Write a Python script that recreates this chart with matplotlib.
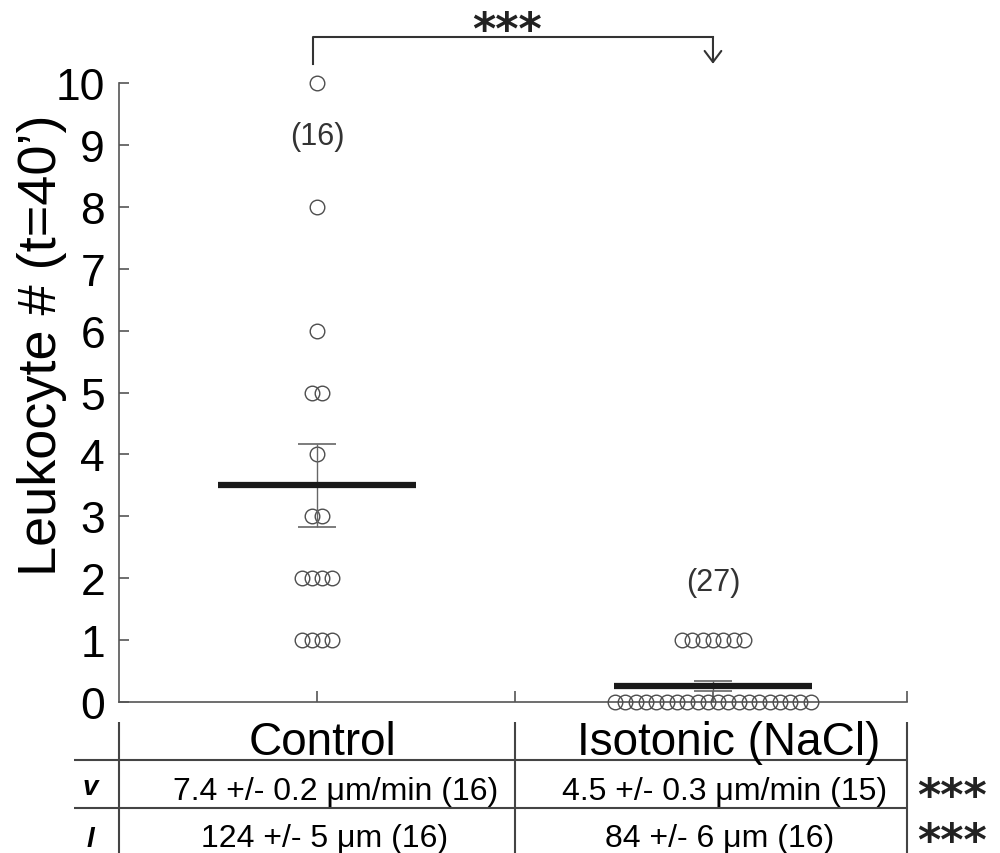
import numpy as np
import matplotlib
matplotlib.use("Agg")
import matplotlib.pyplot as plt

plt.rcParams['font.family'] = ['Liberation Sans', 'DejaVu Sans']

# data
categories = ['Control', 'Isotonic (NaCl)']
control_counts = [10, 8, 6, 5, 5, 4, 3, 3, 2, 2, 2, 2, 1, 1, 1, 1]
isotonic_counts = [1, 1, 1, 1, 1, 1, 1,
                   0, 0, 0, 0, 0, 0, 0, 0, 0, 0,
                   0, 0, 0, 0, 0, 0, 0, 0, 0, 0]
n_labels = ['(16)', '(27)']
n_label_y = [9.14, 1.94]
velocity_row = ['7.4 +/- 0.2 \u03bcm/min (16)', '4.5 +/- 0.3 \u03bcm/min (15)']
length_row = ['124 +/- 5 \u03bcm (16)', '84 +/- 6 \u03bcm (16)']
row_names = ['v', 'l']
row_stars = ['***', '***']
group_stars = '***'
y_ticks = [0, 1, 2, 3, 4, 5, 6, 7, 8, 9, 10]


def swarm_x(values, center, step=0.026):
    """spread equal values side by side around the category centre"""
    values = np.asarray(values)
    xs = np.empty(len(values))
    for v in np.unique(values):
        idx = np.where(values == v)[0]
        k = len(idx)
        xs[idx] = center + (np.arange(k) - (k - 1) / 2) * step
    return xs


fig = plt.figure(figsize=(10, 8.54), dpi=100)
ax = fig.add_axes([0.119, 1 - 703 / 854, 0.788, 619 / 854])
xlim = (0.5, 2.49)
star_font = dict(family='DejaVu Sans', fontweight='bold', fontsize=32,
                 color='#222222')

for i, vals in enumerate([control_counts, isotonic_counts]):
    xc = i + 1
    vals = np.asarray(vals, dtype=float)
    ax.plot(swarm_x(vals, xc), vals, 'o', ms=10.5, mfc='none', mec='#4d4d4d',
            mew=1.0, clip_on=False, zorder=3)
    mean = vals.mean()
    sem = vals.std(ddof=1) / np.sqrt(len(vals))
    ax.errorbar(xc, mean, yerr=sem, fmt='none', ecolor='#666666', elinewidth=1.0,
                capsize=14, capthick=1.2, zorder=4)
    ax.hlines(mean, xc - 0.25, xc + 0.25, color='#1a1a1a', lw=4.5, zorder=5)
    ax.text(xc, n_label_y[i], n_labels[i], ha='center', va='center',
            fontsize=22, color='#333333')

# significance bracket
y_low, y_high = 10.31, 10.74
ax.plot([0.99, 0.99, 2.0], [y_low, y_high, y_high], color='#333333', lw=1.5,
        clip_on=False)
ax.annotate('', xy=(2.0, y_low), xytext=(2.0, y_high), annotation_clip=False,
            arrowprops=dict(arrowstyle='->,head_length=0.4,head_width=0.3',
                            color='#333333', lw=1.5, shrinkA=0, shrinkB=0,
                            mutation_scale=20))
ax.text(1.48, 10.65, group_stars, ha='center', va='baseline', **star_font)

ax.set_xlim(*xlim)
ax.set_ylim(0, 10)
ax.set_yticks(y_ticks)
ax.set_xticks([1, 1.5, 2, xlim[1]])
ax.tick_params(axis='y', direction='in', length=7, width=1.2, color='#555555',
               labelsize=32, pad=10)
ax.tick_params(axis='x', direction='in', length=8, width=1.2, color='#555555',
               labelbottom=False)
for side in ['top', 'right']:
    ax.spines[side].set_visible(False)
for side in ['left', 'bottom']:
    ax.spines[side].set_color('#555555')
    ax.spines[side].set_linewidth(1.2)

ax.text(-0.098, (703 - 345) / 619, 'Leukocyte # (t=40\u2019)', transform=ax.transAxes,
        rotation=90, ha='center', va='center', fontsize=39)

# table under the plot (x shared with the plot, y in pixel rows from the top)
tab = fig.add_axes([0.119, 0, 0.788, 131 / 854])
tab.set_xlim(*xlim)
tab.set_ylim(854, 723)
tab.axis('off')
tab.hlines([761, 809], xlim[0] - 45 / 396, xlim[1], color='#444444', lw=1.5,
           clip_on=False)
tab.vlines([xlim[0], 1.5, xlim[1]], 723, 854, color='#444444', lw=1.5,
           clip_on=False)

tab.text(1.015, 755, categories[0], ha='center', va='baseline', fontsize=33)
tab.text(2.04, 755, categories[1], ha='center', va='baseline', fontsize=33)
tab.text(1.048, 800, velocity_row[0], ha='center', va='baseline', fontsize=23)
tab.text(2.03, 800, velocity_row[1], ha='center', va='baseline', fontsize=23)
tab.text(1.02, 847, length_row[0], ha='center', va='baseline', fontsize=23)
tab.text(2.018, 847, length_row[1], ha='center', va='baseline', fontsize=23)
for yb, name in zip([795, 847], row_names):
    tab.text(0.427, yb, name, ha='center', va='baseline', fontsize=20,
             fontweight='bold', fontstyle='italic', clip_on=False)
for yb, stars in zip([810, 855], row_stars):
    tab.text(2.604, yb, stars, ha='center', va='baseline', clip_on=False,
             **star_font)

fig.savefig('out.png', dpi=100)
